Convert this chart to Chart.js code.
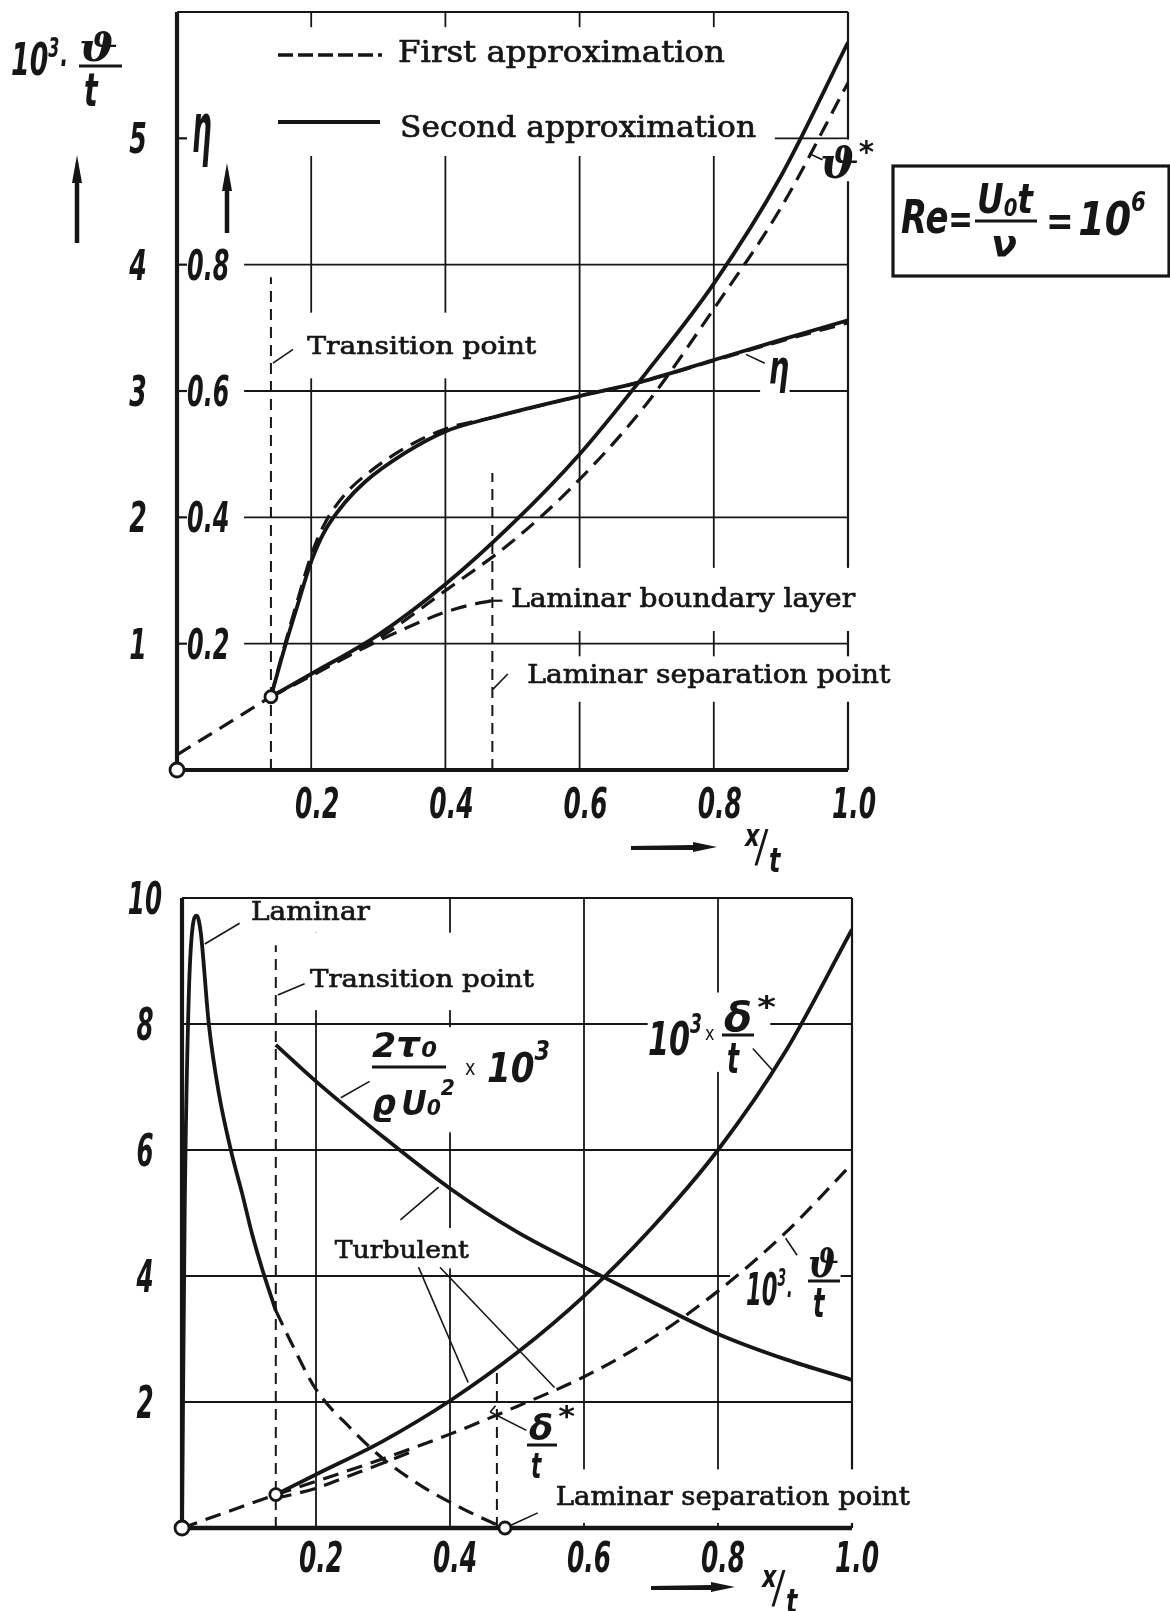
<!DOCTYPE html>
<html>
<head>
<meta charset="utf-8">
<script src="https://cdn.jsdelivr.net/npm/chart.js@4.4.1/dist/chart.umd.min.js"></script>
<style>
  html, body { margin: 0; padding: 0; background: #fff; }
  #wrap { position: relative; width: 1170px; height: 1611px; overflow: hidden; background: #fff; }
  canvas { position: absolute; left: 0; }
  #topPanel { top: 0; width: 1170px; height: 900px; }
  #bottomPanel { top: 830px; width: 1170px; height: 781px; }
</style>
</head>
<body>
<div id="wrap">
  <canvas id="topPanel" width="1170" height="900"></canvas>
  <canvas id="bottomPanel" width="1170" height="781"></canvas>
</div>
<script>
// ---------- shared axis ticks ----------
const xGridValues = [0.2, 0.4, 0.6, 0.8];
const xTickValues = [0.2, 0.4, 0.6, 0.8, 1.0];
const xTickLabels = ['0.2', '0.4', '0.6', '0.8', '1.0'];

// ---------- upper panel: momentum thickness 10^3·ϑ/t and shape factor η ----------
const thetaTickValues = [1, 2, 3, 4, 5];
const thetaTickLabels = ['1', '2', '3', '4', '5'];
const etaTickValues = [0.2, 0.4, 0.6, 0.8];
const etaTickLabels = ['0.2', '0.4', '0.6', '0.8'];

const transitionX = 0.14;
const separationX = 0.47;

// laminar run up to the transition point (first approximation)
const thetaLamX = [0, 0.14];
const thetaLamY = [0.12, 0.58];
// turbulent ϑ, first approximation (dashed)
const thetaFirstX = [0.14, 0.2, 0.3, 0.4, 0.5, 0.6, 0.7, 0.8, 0.9, 1.0];
const thetaFirstY = [0.58, 0.75, 1.04, 1.42, 1.81, 2.3, 2.9, 3.65, 4.45, 5.44];
// turbulent ϑ, second approximation (solid)
const thetaSecondX = [0.14, 0.2, 0.3, 0.4, 0.5, 0.6, 0.7, 0.8, 0.9, 1.0];
const thetaSecondY = [0.58, 0.76, 1.07, 1.47, 1.95, 2.5, 3.15, 3.85, 4.7, 5.76];
// laminar boundary layer continued past transition (dashed)
const thetaLaminarX = [0.14, 0.2, 0.28, 0.34, 0.4, 0.44, 0.47];
const thetaLaminarY = [0.58, 0.745, 0.97, 1.12, 1.25, 1.31, 1.34];
// shape factor η
const etaX = [0.14, 0.16, 0.18, 0.2, 0.22, 0.25, 0.28, 0.34, 0.4, 0.47, 0.6, 0.69, 0.8, 0.9, 1.0];
const etaSecondY = [0.116, 0.192, 0.262, 0.33, 0.378, 0.423, 0.456, 0.502, 0.536, 0.558, 0.592, 0.614, 0.649, 0.681, 0.712];
const etaFirstY = [0.116, 0.196, 0.27, 0.34, 0.39, 0.436, 0.466, 0.51, 0.54, 0.558, 0.592, 0.614, 0.648, 0.679, 0.708];
// open circles: leading edge and transition point
const topMarkX = [0, 0.14];
const topMarkY = [0, 0.58];

// ---------- lower panel: wall shear stress, δ*/t and ϑ/t ----------
const lowTickValues = [2, 4, 6, 8, 10];
const lowTickLabels = ['2', '4', '6', '8', '10'];

const cfLamX = [0, 0.004, 0.01, 0.016, 0.022, 0.028, 0.04, 0.055, 0.074, 0.09, 0.105, 0.12, 0.14];
const cfLamY = [0, 5.0, 8.4, 9.55, 9.72, 9.45, 8.0, 6.9, 5.95, 5.3, 4.65, 4.1, 3.45];
const cfLamExtX = [0.14, 0.165, 0.2, 0.25, 0.3, 0.36, 0.42, 0.46, 0.482];
const cfLamExtY = [3.45, 2.9, 2.2, 1.6, 1.1, 0.65, 0.3, 0.1, 0];
const cfTurbX = [0.14, 0.2, 0.3, 0.4, 0.5, 0.6, 0.7, 0.8, 0.9, 1.0];
const cfTurbY = [7.67, 7.09, 6.21, 5.39, 4.7, 4.14, 3.6, 3.08, 2.68, 2.35];
const deltaX = [0.14, 0.2, 0.3, 0.4, 0.5, 0.6, 0.7, 0.8, 0.9, 1.0];
const deltaY = [0.53, 0.85, 1.38, 2.02, 2.78, 3.68, 4.75, 6.0, 7.55, 9.5];
const thetaStartX = [0, 0.14];
const thetaStartY = [0, 0.53];
const thetaTurbX = [0.14, 0.2, 0.3, 0.4, 0.5, 0.6, 0.7, 0.8, 0.9, 1.0];
const thetaTurbY = [0.53, 0.74, 1.1, 1.49, 1.93, 2.4, 3.0, 3.76, 4.68, 5.78];
const thetaBranchX = [0.14, 0.2, 0.25, 0.3, 0.34];
const thetaBranchY = [0.47, 0.63, 0.83, 1.03, 1.2];
const lowMarkX = [0, 0.14, 0.482];
const lowMarkY = [0, 0.53, 0];

// ---------- drawing helpers ----------
const INK = '#161616';
const pts = (xs, ys) => xs.map((x, i) => ({ x: x, y: ys[i] }));

function curve(xs, ys, dashed, extra) {
  return Object.assign({
    data: pts(xs, ys),
    showLine: true,
    pointRadius: 0,
    borderColor: INK,
    borderWidth: dashed ? 3.2 : 3.8,
    borderDash: dashed ? [16, 9] : [],
    cubicInterpolationMode: 'monotone',
    fill: false,
    order: 1
  }, extra || {});
}
function markers(xs, ys) {
  return {
    data: pts(xs, ys), showLine: false, clip: false,
    pointRadius: ctx => (ctx.raw && ctx.raw.x === 0 ? 7 : 6), pointHoverRadius: 6,
    pointBackgroundColor: '#fff', pointBorderColor: INK, pointBorderWidth: 2.8, order: 0
  };
}
function seg(c, x1, y1, x2, y2, w, dash) {
  c.save();
  c.strokeStyle = INK; c.lineWidth = w || 1.8; c.setLineDash(dash || []);
  c.beginPath(); c.moveTo(x1, y1); c.lineTo(x2, y2); c.stroke();
  c.restore();
}
function fontOf(p) {
  return (p.up ? '' : 'italic ') + (p.light ? '' : 'bold ') + p.s + 'px ' +
    (p.serif ? '"DejaVu Serif", serif' : '"DejaVu Sans", sans-serif');
}
// bold italic condensed lettering
function mtext(c, s, x, y, size, sx, o) {
  o = o || {};
  c.save();
  c.translate(x, y); c.scale(sx, o.sy || 1);
  c.font = fontOf({ s: size, up: o.upright, light: o.light, serif: o.serif });
  c.fillStyle = INK; c.textAlign = o.align || 'left'; c.textBaseline = 'alphabetic';
  c.fillText(s, 0, 0);
  c.restore();
}
// a run of glyph pieces (superscripts, subscripts) squeezed to a given width
function mrun(c, x, y, pieces, target) {
  c.save();
  let total = 0;
  pieces.forEach(p => {
    c.font = fontOf(p);
    p.w = c.measureText(p.t).width * (p.sx || 0.7);
    total += p.w + (p.gap || 0);
  });
  const k = target ? target / total : 1;
  c.translate(x, y); c.scale(k, 1);
  let cx = 0;
  pieces.forEach(p => {
    c.save();
    c.translate(cx, p.dy || 0); c.scale(p.sx || 0.7, p.sy || 1);
    c.font = fontOf(p); c.fillStyle = INK; c.textAlign = 'left'; c.textBaseline = 'alphabetic';
    c.fillText(p.t, 0, 0);
    c.restore();
    cx += p.w + (p.gap || 0);
  });
  c.restore();
}
// typewriter lettering fitted to a given width
function ttext(c, s, x, y, size, width) {
  c.save();
  c.font = size + 'px "DejaVu Serif", serif';
  const w = c.measureText(s).width;
  c.translate(x, y); c.scale(width / w, 1);
  c.fillStyle = INK; c.strokeStyle = INK; c.lineWidth = 0.7;
  c.textAlign = 'left'; c.textBaseline = 'alphabetic';
  c.fillText(s, 0, 0);
  c.strokeText(s, 0, 0);
  c.restore();
}
function arrowUp(c, x, yb, yt) {
  seg(c, x, yb, x, yt + 22, 4.5);
  c.save(); c.fillStyle = INK; c.beginPath();
  c.moveTo(x - 5, yt + 28); c.lineTo(x + 5, yt + 28); c.lineTo(x, yt); c.closePath(); c.fill(); c.restore();
}
function arrowRight(c, xl, xr, y) {
  c.save(); c.fillStyle = INK; c.beginPath();
  c.moveTo(xl, y - 2); c.lineTo(xr - 24, y - 3); c.lineTo(xr - 24, y - 6); c.lineTo(xr, y - 1);
  c.lineTo(xr - 24, y + 4); c.lineTo(xr - 24, y + 2); c.lineTo(xl, y + 2); c.closePath(); c.fill(); c.restore();
}
function xOverT(c, x, y) {
  mtext(c, 'x', x, y, 30, 0.75);
  mtext(c, '/', x + 12, y + 16, 44, 0.6);
  mtext(c, 't', x + 24, y + 26, 34, 0.7);
}
function whiteBox(c, X, Y, b) {
  const l = X(b[0]), r = X(b[1]), t = Y(b[3]), btm = Y(b[2]);
  c.save(); c.fillStyle = '#fff'; c.fillRect(l, t, r - l, btm - t); c.restore();
}

// label areas that interrupt the grid: [x1, x2, y1, y2] in axis units
const topGaps = [
  [0.13, 0.885, 4.86, 5.88],
  [0.985, 1.02, 4.66, 4.99],
  [0.18, 0.54, 3.1, 3.62],
  [0.869, 0.913, 2.75, 3.12],
  [0.49, 1.02, 1.1, 1.6],
  [0.49, 1.02, 0.54, 0.9]
];
const lowGaps = [
  [0.09, 0.3, 9.45, 9.98],
  [0.155, 0.55, 8.22, 9.45],
  [0.3, 0.55, 6.28, 7.95],
  [0.22, 0.45, 4.12, 4.76],
  [0.695, 0.878, 7.24, 8.5],
  [0.818, 0.983, 3.2, 4.4],
  [0.52, 1.02, 0.08, 0.93]
];

// ---------- upper panel drawing ----------
const topPanelArt = {
  id: 'topPanelArt',
  beforeDatasetsDraw(chart) {
    const c = chart.ctx;
    const X = v => chart.scales.x.getPixelForValue(v);
    const Y = v => chart.scales.y.getPixelForValue(v);
    thetaTickValues.slice(0, 4).forEach(v => seg(c, X(0.1), Y(v), X(1), Y(v), 1.8));
    seg(c, X(0.891), Y(5), X(1), Y(5), 1.8);
    xGridValues.forEach(v => seg(c, X(v), Y(0), X(v), Y(6), 1.8));
    seg(c, X(1), Y(0), X(1), Y(6), 2.2);
    seg(c, X(0), Y(6), X(1), Y(6), 2.2);
    topGaps.forEach(b => whiteBox(c, X, Y, b));
    // heavy axes
    seg(c, X(0), Y(0), X(0), Y(6), 4.2);
    seg(c, X(0), Y(0), X(1), Y(0), 4.2);
    thetaTickValues.forEach(v => seg(c, X(0), Y(v), X(0) + 10, Y(v), 2.2));
    // transition and laminar separation markers
    seg(c, X(transitionX), Y(0), X(transitionX), Y(3.9), 2, [11, 7]);
    seg(c, X(separationX), Y(0), X(separationX), Y(2.35), 2, [11, 7]);
  },
  afterDatasetsDraw(chart) {
    const c = chart.ctx;
    const X = v => chart.scales.x.getPixelForValue(v);
    const Y = v => chart.scales.y.getPixelForValue(v);
    const E = v => chart.scales.yEta.getPixelForValue(v);

    // legend
    seg(c, 278, 55, 382, 55, 3.4, [15, 5]);
    seg(c, 278, 122, 380, 122, 3.8);
    ttext(c, 'First approximation', 398, 62, 30, 327);
    ttext(c, 'Second approximation', 400, 137, 30, 356);

    // annotations
    ttext(c, 'Transition point', X(0.194), Y(3.29), 25, 229);
    seg(c, X(0.143), Y(3.22), X(0.173), Y(3.33), 1.6);
    ttext(c, 'Laminar boundary layer', X(0.498), Y(1.29), 26, 344);
    seg(c, X(0.463), Y(1.34), X(0.485), Y(1.34), 2.2);
    ttext(c, 'Laminar separation point', X(0.522), Y(0.69), 26, 363);
    seg(c, X(0.471), Y(0.64), X(0.493), Y(0.76), 1.6);

    // curve names
    seg(c, X(0.848), Y(3.29), X(0.876), Y(3.22), 1.6);
    mtext(c, '\u03B7', X(0.882), Y(3.06), 46, 0.62);
    seg(c, X(0.942), Y(4.88), X(0.962), Y(4.83), 1.6);
    mrun(c, 820, 178, [{ t: '\u03D1', s: 42, serif: true, sx: 0.78 }, { t: '*', s: 30, dy: -16 }], 54);

    // tick labels
    xTickValues.forEach((v, i) => mtext(c, xTickLabels[i], X(v) + 6, Y(0) + 48, 43, 0.58, { align: 'center' }));
    thetaTickValues.forEach((v, i) => mtext(c, thetaTickLabels[i], X(0) - 39, Y(v) + 15, 42, 0.6, { align: 'center' }));
    etaTickValues.forEach((v, i) => mtext(c, etaTickLabels[i], X(0) + 10, E(v) + 15, 42, 0.57));

    // axis titles
    mrun(c, 11, 75, [{ t: '10', s: 44 }, { t: '3', s: 26, dy: -18 }, { t: '\u00B7', s: 34, gap: 2 }], 58);
    mrun(c, 79, 61, [{ t: '\u03D1', s: 40, serif: true, sx: 0.85 }], 39);
    seg(c, 79, 66, 122, 66, 3);
    mtext(c, 't', 84, 106, 46, 0.62);
    mtext(c, '\u03B7', 192, 153, 46, 0.6, { sy: 1.5 });
    arrowUp(c, 77, 243, 155);
    arrowUp(c, 227, 233, 163);
    arrowRight(c, 631, 717, 848);
    xOverT(c, 745, 846);

    // Reynolds number box
    c.save(); c.strokeStyle = INK; c.lineWidth = 3.2; c.strokeRect(893, 166, 276, 110); c.restore();
    mrun(c, 901, 233, [{ t: 'Re', s: 46 }, { t: '=', s: 40 }], 72);
    mrun(c, 977, 213, [{ t: 'U', s: 40 }, { t: '0', s: 24, dy: 3 }, { t: 't', s: 40 }], 56);
    seg(c, 975, 221, 1037, 221, 3);
    mrun(c, 991, 257, [{ t: '\u03BD', s: 38 }], 26);
    mrun(c, 1046, 235, [{ t: '=', s: 40 }, { t: ' ', s: 16 }, { t: '10', s: 46 }, { t: '6', s: 26, dy: -24 }], 100);
  }
};

// ---------- lower panel drawing ----------
const lowPanelArt = {
  id: 'lowPanelArt',
  beforeDatasetsDraw(chart) {
    const c = chart.ctx;
    const X = v => chart.scales.x.getPixelForValue(v);
    const Y = v => chart.scales.y.getPixelForValue(v);
    lowTickValues.slice(0, 4).forEach(v => seg(c, X(0), Y(v), X(1), Y(v), 1.8));
    xGridValues.forEach(v => seg(c, X(v), Y(0), X(v), Y(10), 1.8));
    seg(c, X(1), Y(0), X(1), Y(10), 2.2);
    seg(c, X(0), Y(10), X(1), Y(10), 2.2);
    lowGaps.forEach(b => whiteBox(c, X, Y, b));
    seg(c, X(0), Y(0), X(0), Y(10), 4.2);
    seg(c, X(0), Y(0), X(1), Y(0), 4.6);
    seg(c, X(transitionX), Y(0), X(transitionX), Y(9.25), 2, [11, 7]);
    seg(c, X(separationX), Y(0), X(separationX), Y(2.52), 2, [11, 7]);
  },
  afterDatasetsDraw(chart) {
    const c = chart.ctx;
    const X = v => chart.scales.x.getPixelForValue(v);
    const Y = v => chart.scales.y.getPixelForValue(v);
    const OY = 830;

    ttext(c, 'Laminar', X(0.103), Y(9.65), 26, 119);
    seg(c, X(0.086), Y(9.6), X(0.034), Y(9.27), 1.6);
    ttext(c, 'Transition point', X(0.191), Y(8.59), 25, 224);
    seg(c, X(0.183), Y(8.64), X(0.143), Y(8.46), 1.6);
    ttext(c, 'Turbulent', X(0.228), Y(4.29), 25, 134);
    seg(c, X(0.326), Y(4.89), X(0.383), Y(5.41), 1.6);
    seg(c, X(0.353), Y(4.14), X(0.427), Y(2.31), 1.6);
    seg(c, X(0.385), Y(4.14), X(0.556), Y(2.23), 1.6);
    ttext(c, 'Laminar separation point', X(0.558), Y(0.365), 26, 354);
    seg(c, X(0.531), Y(0.24), X(0.49), Y(0.04), 1.6);

    // wall shear stress label
    mrun(c, 372, 1057 - OY, [{ t: '2', s: 34 }, { t: '\u03C4', s: 36, gap: 1 }, { t: '0', s: 22 }], 65);
    seg(c, 372, 1067 - OY, 446, 1067 - OY, 3);
    mrun(c, 372, 1115 - OY, [{ t: '\u03F1', s: 36, gap: 4 }, { t: 'U', s: 34 }, { t: '0', s: 22 }, { t: '2', s: 22, dy: -20 }], 83);
    mtext(c, 'x', 465, 1075 - OY, 22, 0.8, { upright: true, light: true });
    mrun(c, 487, 1082 - OY, [{ t: '10', s: 40 }, { t: '3', s: 26, dy: -22 }], 63);
    seg(c, X(0.28), Y(7.09), X(0.237), Y(6.83), 1.6);

    // 10^3 x δ*/t label
    mrun(c, 648, 1055 - OY, [{ t: '10', s: 46 }, { t: '3', s: 26, dy: -22 }], 54);
    mtext(c, 'x', 705, 1040 - OY, 20, 0.8, { upright: true, light: true });
    mrun(c, 724, 1031 - OY, [{ t: '\u03B4', s: 40, sx: 0.6, gap: 3 }, { t: '*', s: 30, dy: -14 }], 52);
    seg(c, 722, 1035 - OY, 754, 1035 - OY, 3);
    mtext(c, 't', 727, 1073 - OY, 42, 0.6);
    seg(c, X(0.852), Y(7.61), X(0.881), Y(7.27), 1.6);

    // 10^3·ϑ/t label
    mrun(c, 746, 1305 - OY, [{ t: '10', s: 44 }, { t: '3', s: 24, dy: -19 }, { t: '\u00B7', s: 30 }], 46);
    mrun(c, 808, 1277 - OY, [{ t: '\u03D1', s: 40, serif: true, sx: 0.8 }], 31);
    seg(c, 808, 1281 - OY, 840, 1281 - OY, 3);
    mtext(c, 't', 813, 1317 - OY, 40, 0.6);
    seg(c, X(0.901), Y(4.6), X(0.918), Y(4.33), 1.6);

    // δ*/t label
    mrun(c, 529, 1440 - OY, [{ t: '\u03B4', s: 36, sx: 0.6, gap: 3 }, { t: '*', s: 28, dy: -14 }], 46);
    seg(c, 527, 1445 - OY, 557, 1445 - OY, 3);
    mtext(c, 't', 531, 1478 - OY, 36, 0.6);
    seg(c, X(0.514), Y(1.55), X(0.46), Y(1.84), 1.6);
    seg(c, X(0.46), Y(1.84), X(0.468), Y(1.94), 1.6);

    // ticks and axis title
    xTickValues.forEach((v, i) => mtext(c, xTickLabels[i], X(v) + 5, Y(0) + 44, 43, 0.58, { align: 'center' }));
    lowTickValues.forEach((v, i) => mtext(c, lowTickLabels[i], X(0) - 37, Y(v) + 16, 44, 0.56, { align: 'center' }));
    arrowRight(c, 651, 735, 1588 - OY);
    xOverT(c, 762, 1587 - OY);
  }
};

function makeChart(id, datasets, yMax, pad, extraScales, art) {
  const scales = Object.assign({
    x: { type: 'linear', min: 0, max: 1, display: false },
    y: { type: 'linear', min: 0, max: yMax, display: false }
  }, extraScales || {});
  return new Chart(document.getElementById(id), {
    type: 'scatter',
    data: { datasets: datasets },
    options: {
      responsive: false, animation: false, devicePixelRatio: 1,
      layout: { padding: pad },
      plugins: { legend: { display: false }, tooltip: { enabled: false } },
      events: [],
      scales: scales
    },
    plugins: [art]
  });
}

makeChart('topPanel', [
  curve(thetaLamX, thetaLamY, true, { cubicInterpolationMode: 'default', tension: 0 }),
  curve(thetaFirstX, thetaFirstY, true),
  curve(thetaLaminarX, thetaLaminarY, true),
  curve(thetaSecondX, thetaSecondY, false),
  curve(etaX, etaFirstY, true, { yAxisID: 'yEta' }),
  curve(etaX, etaSecondY, false, { yAxisID: 'yEta' }),
  markers(topMarkX, topMarkY)
], 6, { left: 177, right: 322, top: 12, bottom: 130 },
  { yEta: { type: 'linear', min: 0, max: 1.2, display: false } }, topPanelArt);

makeChart('bottomPanel', [
  curve(cfLamX, cfLamY, false),
  curve(cfLamExtX, cfLamExtY, true),
  curve(cfTurbX, cfTurbY, false),
  curve(deltaX, deltaY, false),
  curve(thetaStartX, thetaStartY, true, { cubicInterpolationMode: 'default', tension: 0 }),
  curve(thetaTurbX, thetaTurbY, true),
  curve(thetaBranchX, thetaBranchY, true),
  markers(lowMarkX, lowMarkY)
], 10, { left: 182, right: 318, top: 68, bottom: 83 }, null, lowPanelArt);
</script>
</body>
</html>
